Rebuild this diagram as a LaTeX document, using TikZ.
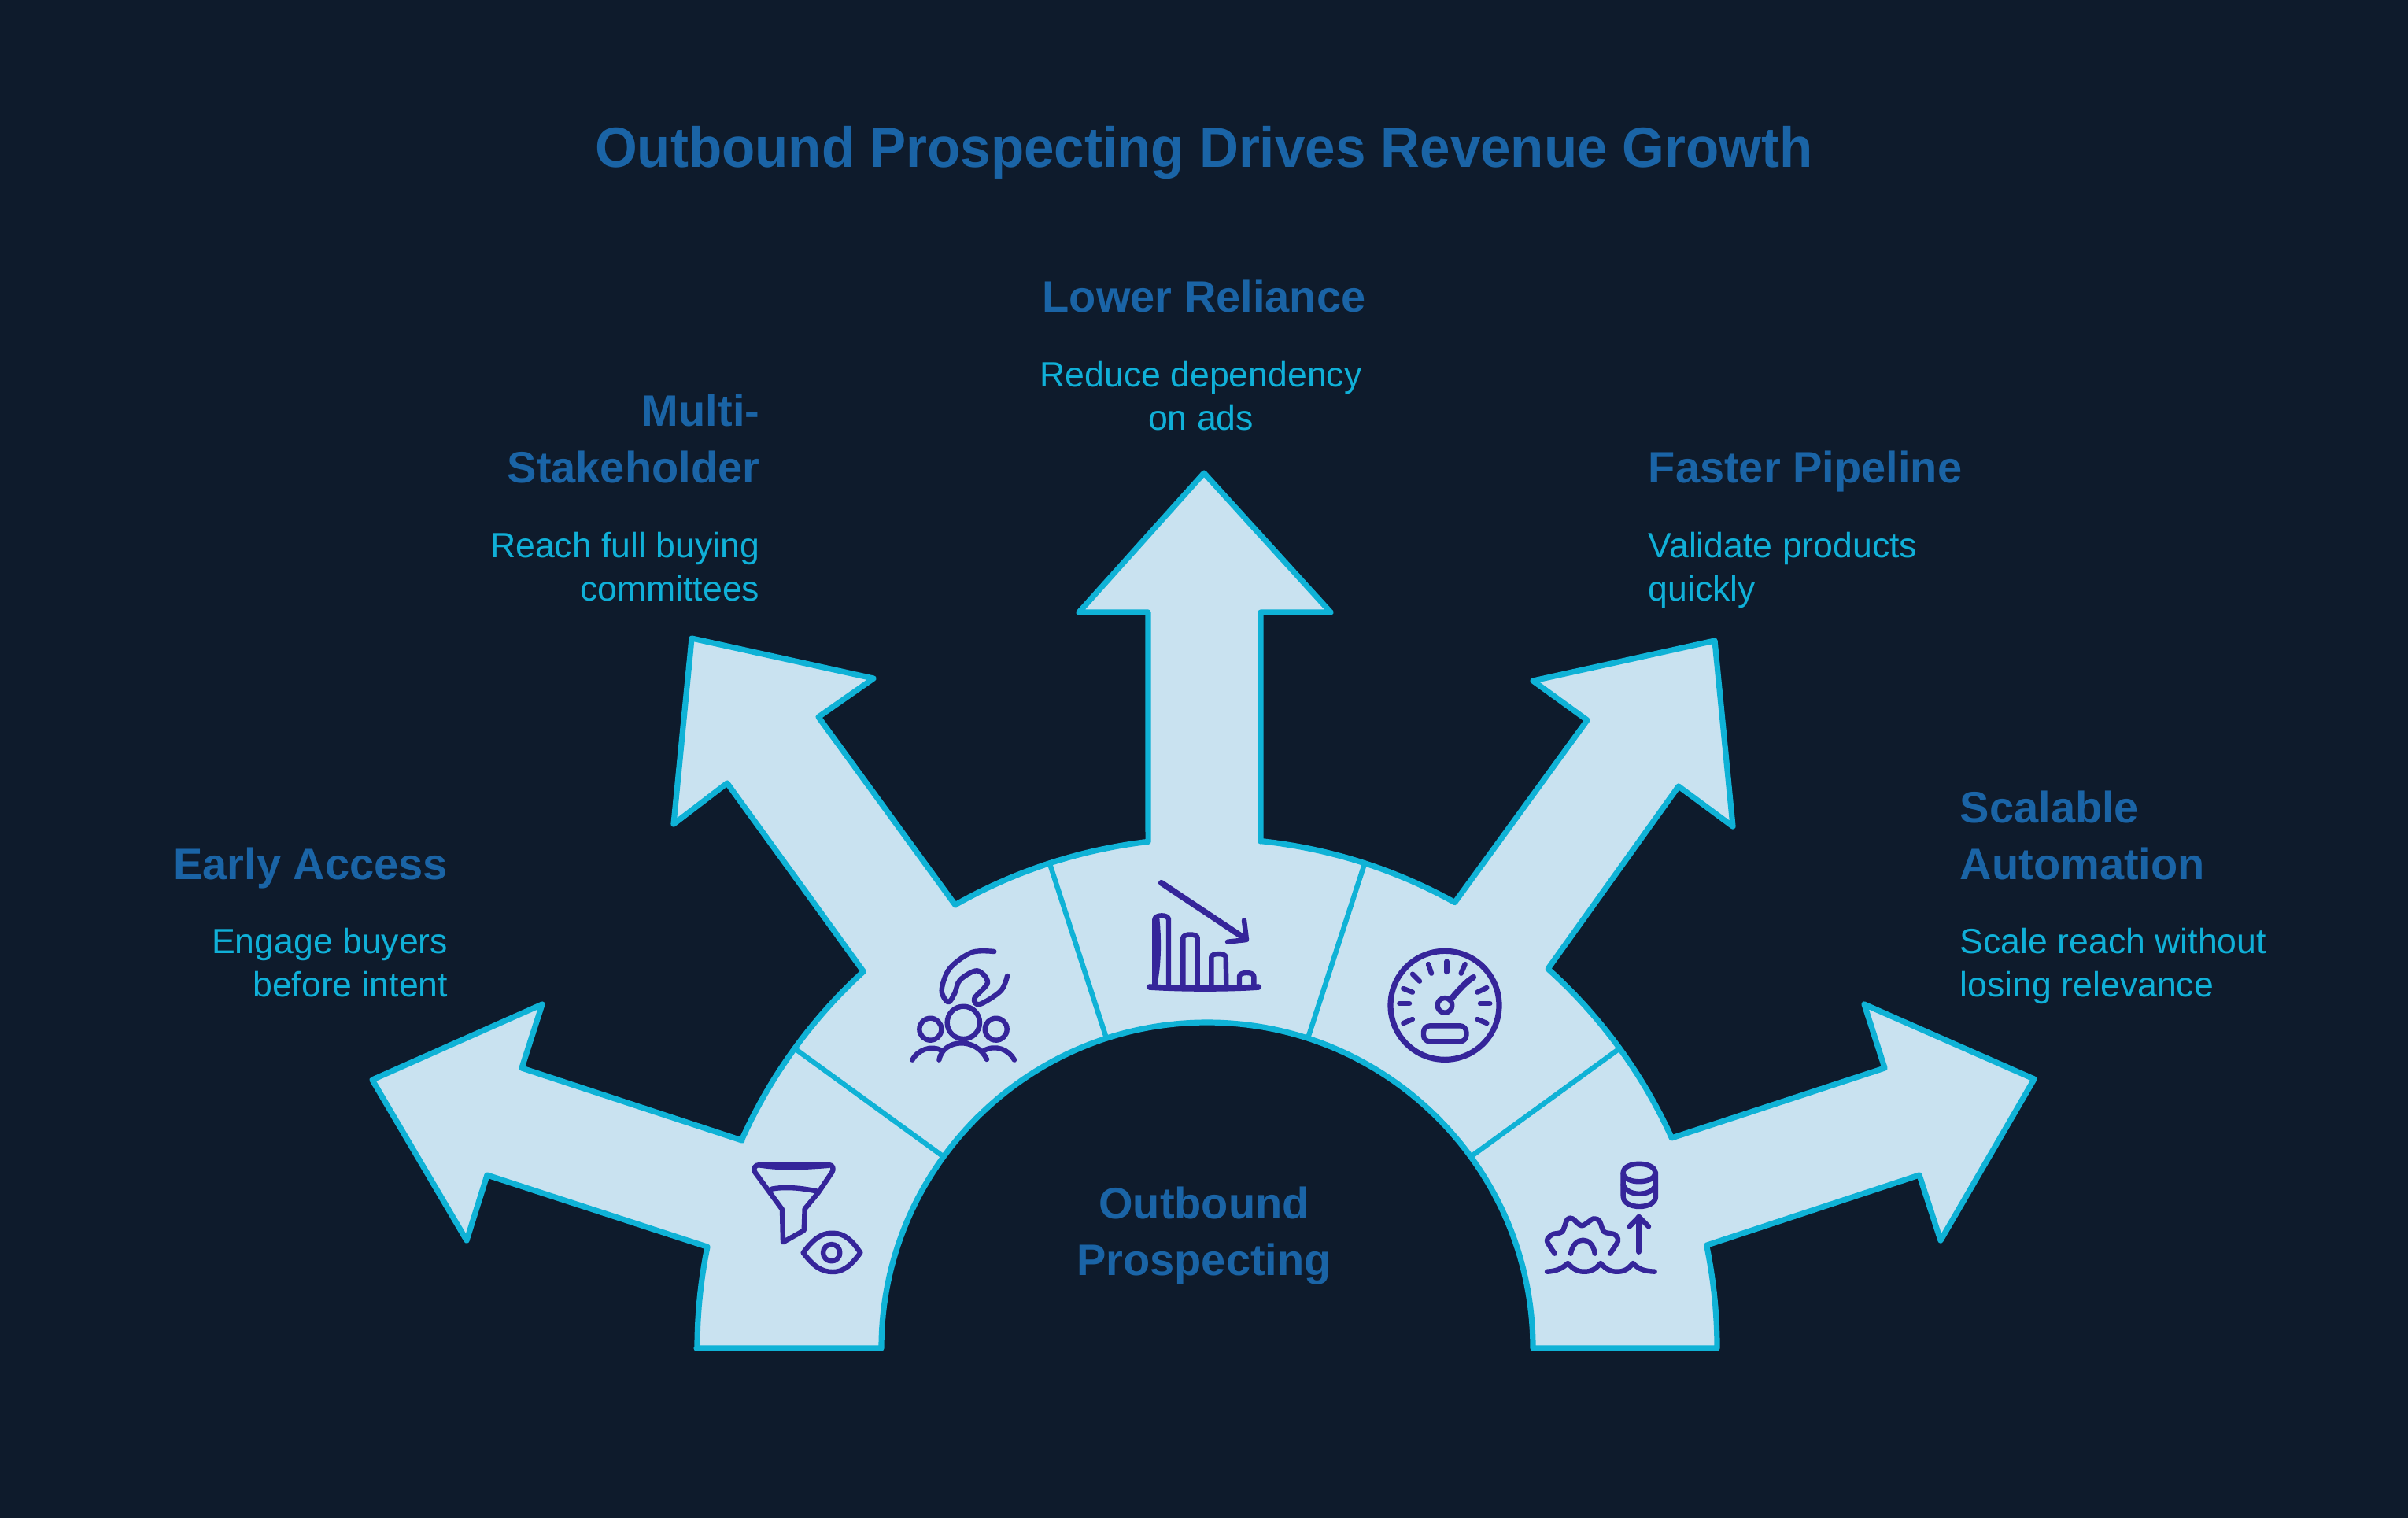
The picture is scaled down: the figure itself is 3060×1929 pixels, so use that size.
\documentclass[tikz,border=0pt]{standalone}
\usepackage{fontspec}
\usetikzlibrary{calc}
\setmainfont{Liberation Sans}
\newfontfamily\titlefont[FakeStretch=0.96]{Liberation Sans}
\definecolor{bgc}{HTML}{0E1B2C}
\definecolor{fillc}{HTML}{C9E2F0}
\definecolor{edgec}{HTML}{0FB2D6}
\definecolor{headc}{HTML}{1A64A6}
\definecolor{bodyc}{HTML}{10B0D8}
\definecolor{iconc}{HTML}{35259A}
\newcommand{\outarc}[2]{-- ($(C)+(#1:648)$) arc[start angle=#1,end angle=#2,radius=648]}
\newcommand{\isc}[2]{\begin{scope}[shift={(#1,#2)},scale=1/3]}
\tikzset{
  band/.style={fill=fillc,draw=edgec,line width=1.8pt,line join=round},
  divider/.style={draw=edgec,line width=1.6pt,line cap=round},
  icon/.style={draw=iconc,line width=1.6pt,line cap=round,line join=round},
  titletext/.style={text=headc,inner sep=0pt,font=\titlefont\fontsize{18pt}{24pt}\selectfont\bfseries},
  headtext/.style={text=headc,inner sep=0pt,font=\fontsize{14pt}{18pt}\selectfont\bfseries},
  bodytext/.style={text=bodyc,inner sep=0pt,font=\fontsize{11.15pt}{13.6pt}\selectfont},
}
\begin{document}
\begin{tikzpicture}[x=0.25pt,y=-0.25pt]
\fill[bgc] (0,0) rectangle (3060,1929);
\useasboundingbox (0,0) rectangle (3060,1929);
\coordinate (C) at (1534,1713);
% band with arrows
\path[band] (885,1713)
  \outarc{180}{191.47}
  -- (619,1493) -- (593,1576) -- (473,1372) -- (689,1276) -- (663,1357) -- (943,1449)
  \outarc{204.07}{227.62}
  -- (924,995) -- (856,1047) -- (879,811) -- (1110,862) -- (1040,911) -- (1214,1150)
  \outarc{240.4}{263.36}
  -- (1459,778) -- (1371,778) -- (1530,601) -- (1691,778) -- (1602,778) -- (1602,1069)
  \outarc{276.03}{299.05}
  -- (2017,915) -- (1948,865) -- (2179,814) -- (2202,1050) -- (2133,999) -- (1967,1231)
  \outarc{311.94}{335.65}
  -- (2395,1357) -- (2369,1276) -- (2585,1371) -- (2466,1576) -- (2439,1493) -- (2169,1582)
  \outarc{348.35}{360}
  -- ($(C)+(360:414)$) arc[start angle=360,end angle=180,radius=414] -- cycle;
% dividers
\foreach \a in {216,252,288,324}
  \draw[divider] ($(C)+(\a:414)$) -- ($(C)+(\a:648)$);
% funnel and eye
\isc{840}{1400}
  \draw[icon] (375,240) -- (640,240) .. controls (655,240) and (660,255) .. (652,268) -- (600,345) -- (548,408) -- (545,490) -- (465,535) -- (462,410) -- (358,268) .. controls (350,255) and (358,240) .. (375,240) -- cycle;
  \fill[iconc] (370,236) -- (640,236) -- (640,252) .. controls (560,258) and (460,265) .. (370,250) -- cycle;
  \draw[icon] (422,332) .. controls (470,322) and (540,328) .. (600,342);
  \draw[icon] (542,575) .. controls (590,510) and (620,500) .. (655,500) .. controls (700,500) and (730,530) .. (760,575) .. controls (720,630) and (690,648) .. (655,648) .. controls (610,648) and (580,625) .. (542,575) -- cycle;
  \draw[icon] (650,575) circle[radius=32];
\end{scope}
% people and hand
\isc{1100}{1160}
  \draw[icon] plot[smooth,tension=.55] coordinates {(490,147) (405,150) (320,212) (290,295) (315,340) (340,305) (360,255) (425,220) (465,265) (415,325) (435,348) (515,297) (540,240)};
  \draw[icon] (373,418) circle[radius=62];
  \draw[icon] (247,443) circle[radius=42];
  \draw[icon] (497,443) circle[radius=42];
  \draw[icon] (178,560) .. controls (195,525) and (250,500) .. (290,525);
  \draw[icon] (280,560) .. controls (295,480) and (420,470) .. (462,558);
  \draw[icon] (450,525) .. controls (495,500) and (545,520) .. (567,560);
\end{scope}
% falling bars
\isc{1420}{1080}
  \draw[icon,line width=1.9pt] (122,522) .. controls (250,530) and (420,530) .. (538,522);
  \draw[icon] (142,522) -- (142,265) .. controls (142,245) and (195,245) .. (195,265) -- (195,522);
  \fill[iconc] (142,260) -- (160,260) .. controls (170,360) and (165,450) .. (150,522) -- (142,522) -- cycle;
  \draw[icon] (250,522) -- (250,335) .. controls (250,318) and (305,318) .. (305,335) -- (305,522);
  \draw[icon] (358,522) -- (358,408) .. controls (358,392) and (413,392) .. (413,408) -- (415,522);
  \draw[icon] (465,522) -- (465,482) .. controls (465,463) and (520,463) .. (520,482) -- (520,522);
  \draw[icon,line width=1.9pt] (167,125) -- (490,340);
  \draw[icon] (483,268) -- (492,342) -- (420,350);
\end{scope}
% gauge
\isc{1730}{1170}
  \draw[icon,line width=1.8pt] (318,322) circle[radius=207];
  \foreach \p/\q in {{(255,165)}/{(267,200)},{(326,155)}/{(326,195)},{(395,165)}/{(380,200)},{(195,203)}/{(222,230)},{(160,258)}/{(195,272)},{(145,315)}/{(183,315)},{(160,390)}/{(195,375)},{(478,255)}/{(442,272)},{(490,315)}/{(453,315)},{(478,390)}/{(442,375)}}
    \draw[icon] \p -- \q;
  \draw[icon] (318,322) circle[radius=28];
  \draw[icon,line width=1.9pt] (340,300) .. controls (370,265) and (395,235) .. (427,215);
  \draw[icon,rounded corners=2pt] (237,400) rectangle (400,460);
\end{scope}
% gear, water, database
\isc{1930}{1450}
  \draw[icon] (398,120) .. controls (398,75) and (520,75) .. (520,120) .. controls (520,165) and (398,165) .. (398,120) -- cycle;
  \draw[icon] (398,120) -- (398,210) .. controls (398,262) and (522,262) .. (522,210) -- (522,120);
  \draw[icon] (398,165) .. controls (410,212) and (510,212) .. (522,165);
  \draw[icon] (458,422) -- (458,288);
  \draw[icon] (422,325) -- (458,288) -- (495,325);
  \draw[icon] plot[smooth,tension=.5] coordinates {(137,428) (108,380) (128,355) (165,345) (185,298) (205,295) (240,322) (285,295) (308,305) (325,345) (365,355) (378,380) (348,428)};
  \draw[icon] (198,428) .. controls (210,360) and (280,360) .. (290,428);
  \draw[icon] (108,497) .. controls (145,495) and (165,485) .. (187,465) .. controls (210,490) and (225,497) .. (250,497) .. controls (275,497) and (290,490) .. (312,465) .. controls (335,490) and (350,497) .. (375,497) .. controls (400,497) and (415,490) .. (435,465) .. controls (460,490) and (480,495) .. (518,497);
\end{scope}
% text
\node[titletext,anchor=base] (title) at (1530,212) {Outbound Prospecting Drives Revenue Growth};
\node[headtext,anchor=base] (h3) at (1530,396) {Lower Reliance};
\node[bodytext,anchor=base,align=center] (b3) at (1526,546) {Reduce dependency\\on ads};
\node[headtext,anchor=base east,align=right] (h2) at (966,613) {Multi-\\Stakeholder};
\node[bodytext,anchor=base east,align=right] (b2) at (966,763) {Reach full buying\\committees};
\node[headtext,anchor=base east] (h1) at (570,1117) {Early Access};
\node[bodytext,anchor=base east,align=right] (b1) at (570,1266) {Engage buyers\\before intent};
\node[headtext,anchor=base west] (h4) at (2094,613) {Faster Pipeline};
\node[bodytext,anchor=base west,align=left] (b4) at (2094,763) {Validate products\\quickly};
\node[headtext,anchor=base west,align=left] (h5) at (2490,1117) {Scalable\\Automation};
\node[bodytext,anchor=base west,align=left] (b5) at (2490,1266) {Scale reach without\\losing relevance};
\node[headtext,anchor=base,align=center] (hub) at (1530,1620) {Outbound\\Prospecting};
\end{tikzpicture}
\end{document}
